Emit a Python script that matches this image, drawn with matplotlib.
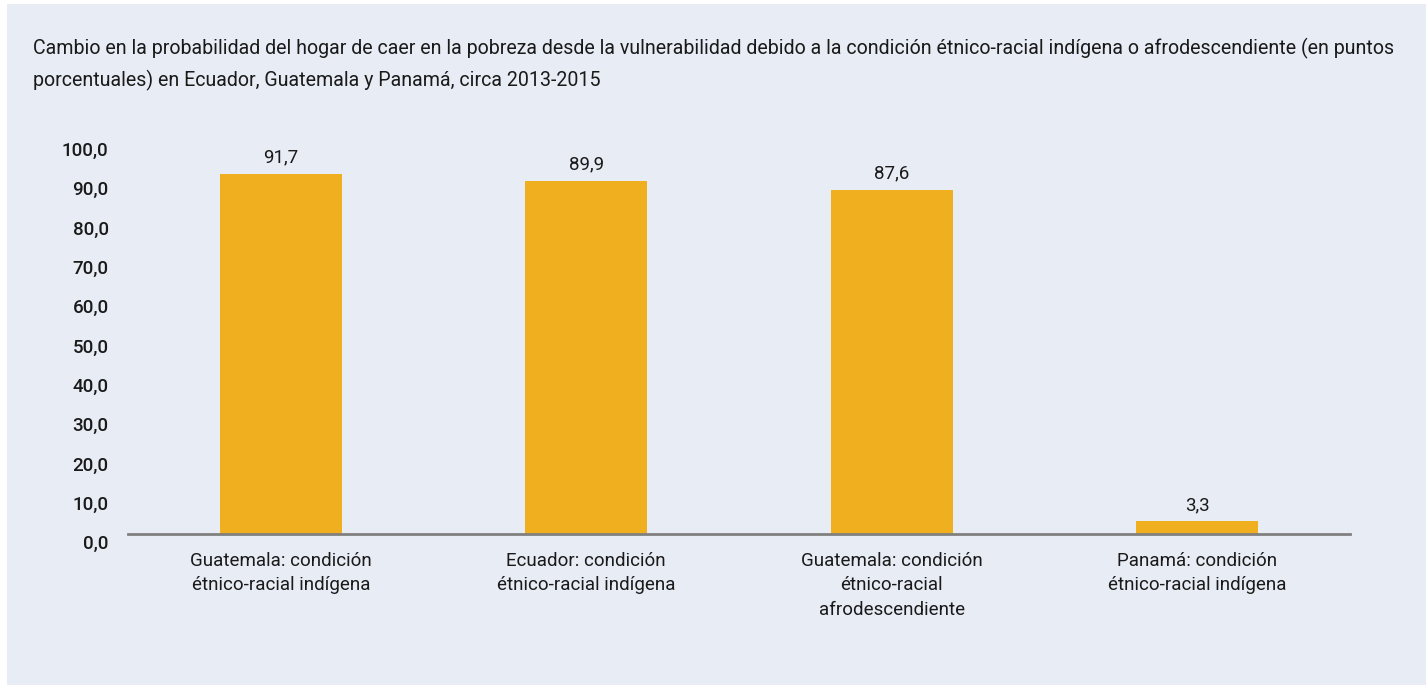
import matplotlib
matplotlib.use("Agg")
import matplotlib.pyplot as plt
import matplotlib.transforms as mtransforms
from matplotlib.patches import Rectangle
from matplotlib import font_manager

categories = [
    "Guatemala: condición\nétnico-racial indígena",
    "Ecuador: condición\nétnico-racial indígena",
    "Guatemala: condición\nétnico-racial\nafrodescendiente",
    "Panamá: condición\nétnico-racial indígena",
]
values = [91.7, 89.9, 87.6, 3.3]
yticks = [0, 10, 20, 30, 40, 50, 60, 70, 80, 90, 100]
title = ("Cambio en la probabilidad del hogar de caer en la pobreza desde la vulnerabilidad debido a la "
         "condición étnico-racial indígena o afrodescendiente (en puntos\n"
         "porcentuales) en Ecuador, Guatemala y Panamá, circa 2013-2015")

BG = "#e8ecf5"
BAR = "#f0af1e"
TXT = "#1a1a1a"

installed = {f.name for f in font_manager.fontManager.ttflist}
family = "Liberation Sans Narrow" if "Liberation Sans Narrow" in installed else "Roboto"
plt.rcParams["font.family"] = [family, "DejaVu Sans"]


def fmt(v):
    return f"{v:.1f}".replace(".", ",")


fig = plt.figure(figsize=(14.26, 6.85), dpi=100, facecolor="white")
fig.patches.append(Rectangle((7 / 1426, 0), 1 - 7 / 1426, 1 - 4 / 685,
                             transform=fig.transFigure, facecolor=BG, edgecolor="none", zorder=-10))

ax = fig.add_axes([128 / 1426, 151 / 685, 1222 / 1426, 393 / 685])
ax.set_facecolor("none")

x = range(len(values))
ax.bar(x, values, width=0.4, color=BAR, zorder=2)
for xi, v in zip(x, values):
    ax.annotate(fmt(v), (xi, v), xytext=(0, 5), textcoords="offset points",
                ha="center", va="bottom", fontsize=13.5, color=TXT)

ax.set_xlim(-0.5, 3.5)
ax.set_ylim(0, 100)
ax.set_yticks(yticks)
ax.set_yticklabels([fmt(t) for t in yticks], fontsize=13.5, color=TXT, fontweight="medium")
ax.set_xticks(list(x))
ax.set_xticklabels(categories, fontsize=13.5, color=TXT, linespacing=1.45, va="top")

for s in ["top", "right", "left"]:
    ax.spines[s].set_visible(False)
ax.spines["bottom"].set_color("#808080")
ax.spines["bottom"].set_linewidth(2)
ax.tick_params(axis="both", length=0)
ax.tick_params(axis="y", pad=14)
ax.tick_params(axis="x", pad=13)

# y labels sit a little below their gridline values
off = mtransforms.ScaledTranslation(0, -8 / 100, fig.dpi_scale_trans)
for lab in ax.get_yticklabels():
    lab.set_transform(lab.get_transform() + off)

fig.text(33 / 1426, 1 - 38 / 685, title, fontsize=14.1, color=TXT, va="top", ha="left",
         linespacing=1.65)

fig.savefig("out.png", dpi=100, facecolor=fig.get_facecolor())
